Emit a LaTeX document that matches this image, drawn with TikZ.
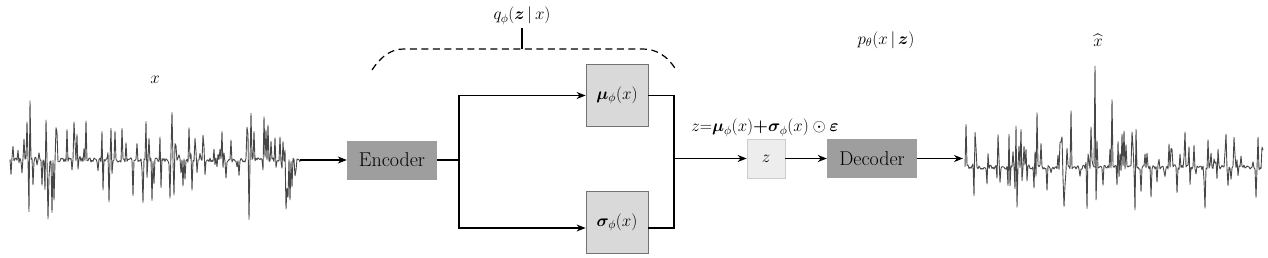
\RequirePackage{fix-cm}
\documentclass[tikz,border=0pt]{standalone}
\usepackage{amsmath,bm}
\usetikzlibrary{arrows.meta}
\begin{document}
\begin{tikzpicture}[x=1pt,y=-1pt,
  every node/.style={font=\fontsize{17}{20}\selectfont},
  darkbox/.style={draw=none,fill=black!38,minimum width=90pt,minimum height=39pt,inner sep=0pt,font=\fontsize{20}{24}\selectfont},
  lightbox/.style={draw=black!55,line width=0.8pt,fill=black!15,minimum width=62pt,minimum height=62pt,inner sep=0pt},
  zbox/.style={draw=black!20,line width=0.8pt,fill=black!7,minimum width=38pt,minimum height=39pt,inner sep=0pt},
  conn/.style={line width=1.2pt,black},
  arr/.style={conn,-{Stealth[length=9pt,width=7pt]}},
  wave/.style={line width=0.9pt,black!72,line join=round}]
\useasboundingbox (0,0) rectangle (1268,257);
% input waveform
\pgfmathsetseed{11}
\draw[wave] plot[domain=10:300,samples=291] (\x,{160+2.2*rand+(rnd>0.6)*rand*62*(abs(sin(\x*9.1)))^0.8});
\coordinate (xin) at (300,160);
\node (lx) at (155,80) {$x$};
% encoder
\node[darkbox] (enc) at (392,160) {Encoder};
\coordinate (b1) at (459,160);
\node[lightbox] (mu) at (617,95.5) {$\bm{\mu}_{\phi}(x)$};
\node[lightbox] (sig) at (617,222.5) {$\bm{\sigma}_{\phi}(x)$};
\coordinate (b2) at (674,158.5);
\node[zbox] (z) at (766,158.5) {$z$};
\node[darkbox] (dec) at (872,158.5) {Decoder};
\coordinate (xout) at (963,158.5);
% connectors
\draw[arr] (xin) -- (enc.west);
\draw[conn] (enc.east) -- (b1);
\draw[arr] (b1) |- (mu.west);
\draw[arr] (b1) |- ([yshift=-5.5pt]sig.west);
\draw[conn] (mu.east) -| (b2);
\draw[conn] ([yshift=-5.5pt]sig.east) -| (b2);
\draw[arr] (b2) -- (z.west);
\draw[arr] (z.east) -- (dec.west);
\draw[arr] (dec.east) -- (xout);
% labels
\node (eq) at (765,128) {$z{=}\bm{\mu}_{\phi}(x){\bm{+}}\bm{\sigma}_{\phi}(x)\odot\bm{\varepsilon}$};
\node (q) at (522,16) {$q_{\phi}(\bm{z}\,|\,x)$};
\node (p) at (886,40) {$p_{\theta}(x\,|\,\bm{z})$};
\node (lxh) at (1098,40) {$\widehat{x}$};
% dashed bracket
\coordinate (bl) at (372,70);
\coordinate (br) at (676,70);
\coordinate (bt) at (522,49);
\draw[line width=1.2pt,dash pattern=on 7pt off 4.5pt] (bl) .. controls (382,55) and (392,49) .. (404,49) -- (643,49) .. controls (656,49) and (668,56) .. (br);
\draw[line width=1.2pt] (bt) -- (q.south);
% output waveform
\pgfmathsetseed{23}
\draw[wave] plot[domain=965:1263,samples=299] (\x,{167+2.2*rand+(rnd>0.6)*(rand*45*(abs(sin(\x*7.7)))^0.8-(rnd>0.75)*rnd*45)});
\draw[wave] (1094,167) -- (1095,66) -- (1096,200) -- (1097,167);
\end{tikzpicture}
\end{document}
